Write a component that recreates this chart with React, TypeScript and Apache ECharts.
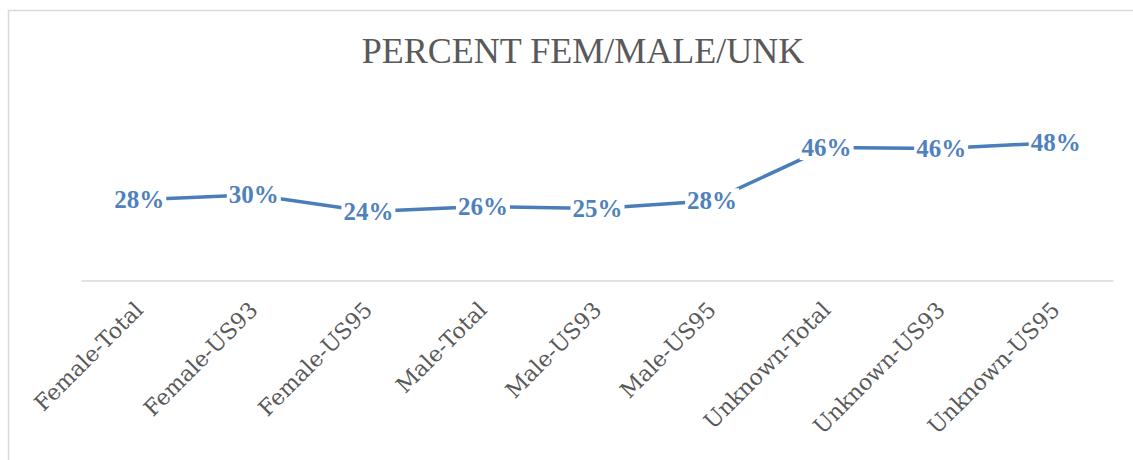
import React, { useEffect, useRef } from "react";
import * as echarts from "echarts";

const categories = [
  "Female-Total",
  "Female-US93",
  "Female-US95",
  "Male-Total",
  "Male-US93",
  "Male-US95",
  "Unknown-Total",
  "Unknown-US93",
  "Unknown-US95",
];
const percentValues = [0.28, 0.297, 0.24, 0.257, 0.25, 0.277, 0.46, 0.457, 0.477];
const titleText = "PERCENT FEM/MALE/UNK";

export default function App() {
  const ref = useRef<HTMLDivElement>(null);
  useEffect(() => {
    if (!ref.current) return;
    const chart = echarts.init(ref.current, null, { renderer: "svg" });
    chart.setOption({
      animation: false,
      backgroundColor: "#ffffff",
      title: {
        text: titleText,
        top: 28,
        left: 578,
        textAlign: "center",
        textStyle: {
          fontFamily: "Liberation Serif",
          fontSize: 36,
          fontWeight: "normal",
          color: "#595959",
        },
      },
      graphic: [
        {
          type: "rect",
          shape: { x: 8.5, y: 10.5, width: 1200, height: 600 },
          style: { fill: "none", stroke: "#d9d9d9", lineWidth: 1.5 },
          silent: true,
          z: -1,
        },
      ],
      grid: { left: 82, right: 20, top: 107, bottom: 179, containLabel: false },
      xAxis: {
        type: "category",
        data: categories,
        boundaryGap: true,
        axisLine: { lineStyle: { color: "#d9d9d9", width: 1.5 } },
        axisTick: { show: false },
        axisLabel: {
          rotate: 45,
          margin: 25,
          interval: 0,
          fontFamily: "DejaVu Serif",
          fontSize: 22,
          color: "#595959",
        },
      },
      yAxis: {
        type: "value",
        min: 0,
        max: 0.6,
        show: false,
        splitLine: { show: false },
      },
      series: [
        {
          type: "line",
          data: percentValues,
          symbol: "circle",
          symbolSize: 1,
          showSymbol: true,
          itemStyle: { color: "rgba(0,0,0,0)", borderWidth: 0 },
          lineStyle: { color: "#4a7ebb", width: 3.5 },
          label: {
            show: true,
            position: "inside",
            formatter: (p: any) => Math.round(p.value * 100) + "%",
            fontFamily: "Liberation Serif",
            fontWeight: "bold",
            fontSize: 25,
            color: "#4f81bd",
            backgroundColor: "#ffffff",
            padding: [0, 2],
          },
        },
      ],
    });
    return () => chart.dispose();
  }, []);
  return (
    <div
      ref={ref}
      style={{ position: "absolute", left: 0, top: 0, width: 1133, height: 460 }}
    />
  );
}
